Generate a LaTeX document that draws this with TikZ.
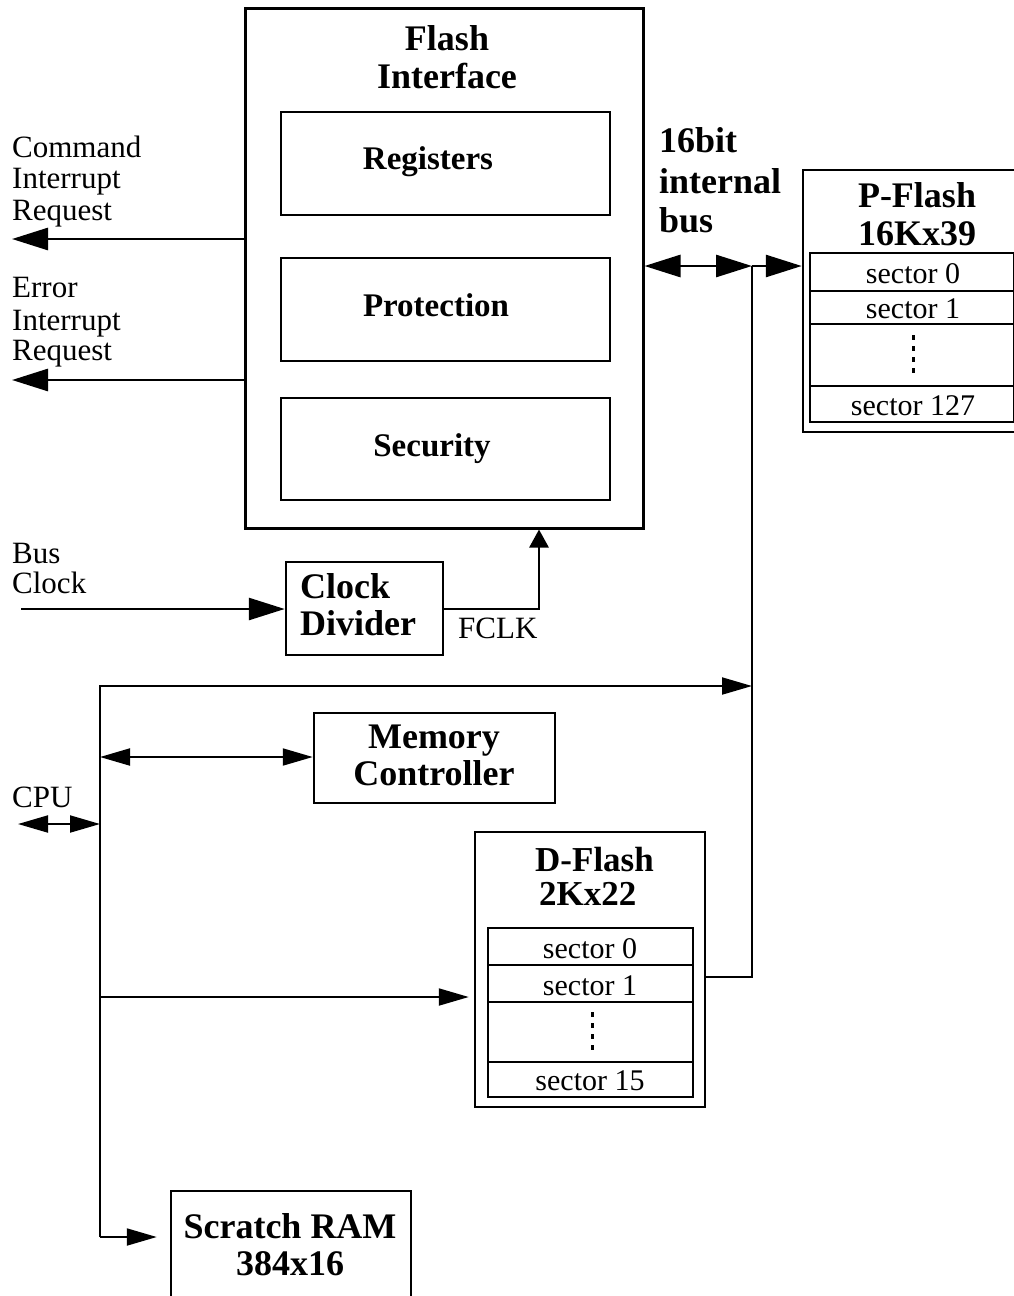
\documentclass[tikz,border=0pt]{standalone}
\usepackage{fontspec}
\setmainfont{Liberation Serif}
\usetikzlibrary{arrows.meta}
\tikzset{
  blk/.style={draw, line width=2.5pt, inner sep=0pt},
  thk/.style={line width=2.8pt},
  thn/.style={line width=2pt},
  bigtip/.style={-{Triangle[length=36pt,width=22pt]}},
  bigboth/.style={{Triangle[length=36pt,width=22pt]}-{Triangle[length=36pt,width=22pt]}},
  smtip/.style={-{Triangle[length=30pt,width=17pt]}},
  smboth/.style={{Triangle[length=30pt,width=17pt]}-{Triangle[length=30pt,width=17pt]}},
  ttl/.style={font=\fontsize{36}{38}\selectfont\bfseries, anchor=base, inner sep=0pt},
  ttlw/.style={font=\fontsize{36}{38}\selectfont\bfseries, anchor=base west, inner sep=0pt},
  sub/.style={font=\fontsize{33}{35}\selectfont\bfseries, anchor=base, inner sep=0pt},
  txt/.style={font=\fontsize{31}{32}\selectfont, anchor=base west, inner sep=0pt},
  sect/.style={font=\fontsize{30}{32}\selectfont, anchor=base, inner sep=0pt},
  dotsline/.style={line width=3pt, dash pattern=on 5pt off 6pt},
}
\begin{document}
\begin{tikzpicture}[x=1pt,y=-1pt]
\fill[white] (0,0) rectangle (1013,1296);
\useasboundingbox (0,0) rectangle (1013,1296);

% Flash interface
\node[blk, line width=3pt, minimum width=398pt, minimum height=520pt] (fi) at (444,268) {};
\node[blk, minimum width=329pt, minimum height=103pt] (reg) at (445.5,163.5) {};
\node[blk, minimum width=329pt, minimum height=103pt] (prot) at (445.5,309.5) {};
\node[blk, minimum width=329pt, minimum height=102pt] (sec) at (445.5,449) {};
\node[ttl] (fiT1) at (447,50) {Flash};
\node[ttl] (fiT2) at (447,88) {Interface};
\node[sub] (regT) at (428,169) {Registers};
\node[sub] (protT) at (436,316) {Protection};
\node[sub] (secT) at (432,456) {Security};

% P-Flash
\node[blk, minimum width=218pt, minimum height=262pt] (pf) at (912,301) {};
\node[blk, minimum width=204pt, minimum height=38pt] (pf0) at (912,272) {};
\node[blk, minimum width=204pt, minimum height=33pt] (pf1) at (912,307.5) {};
\node[blk, minimum width=204pt, minimum height=62pt] (pfd) at (912,355) {};
\node[blk, minimum width=204pt, minimum height=36pt] (pf127) at (912,404) {};
\node[ttl] (pfT1) at (917,207) {P-Flash};
\node[ttl] (pfT2) at (917,245) {16Kx39};
\node[sect] (pf0T) at (913,283) {sector 0};
\node[sect] (pf1T) at (913,318) {sector 1};
\node[sect] (pf127T) at (913,415) {sector 127};
\draw[dotsline] (913,335) -- (913,378);

% D-Flash
\node[blk, minimum width=230pt, minimum height=275pt] (df) at (590,969.5) {};
\node[blk, minimum width=205pt, minimum height=37pt] (df0) at (590.5,946.5) {};
\node[blk, minimum width=205pt, minimum height=37pt] (df1) at (590.5,983.5) {};
\node[blk, minimum width=205pt, minimum height=60pt] (dfd) at (590.5,1032) {};
\node[blk, minimum width=205pt, minimum height=35pt] (df15) at (590.5,1079.5) {};
\node[font=\fontsize{35}{34}\selectfont\bfseries, align=left, inner sep=0pt, anchor=south west] (dfT) at (535,906) {D-Flash\\\hspace*{4pt}2Kx22};
\node[sect] (df0T) at (590,958) {sector 0};
\node[sect] (df1T) at (590,995) {sector 1};
\node[sect] (df15T) at (590,1090) {sector 15};
\draw[dotsline] (592,1012) -- (592,1054);

% Clock divider, memory controller, scratch RAM
\node[blk, minimum width=157pt, minimum height=93pt] (clk) at (364.5,608.5) {};
\node[ttlw] (clkT1) at (300,598) {Clock};
\node[ttlw] (clkT2) at (300,635) {Divider};
\node[blk, minimum width=241pt, minimum height=90pt] (mc) at (434.5,758) {};
\node[ttl] (mcT1) at (434,748) {Memory};
\node[ttl] (mcT2) at (434,785) {Controller};
\node[blk, minimum width=240pt, minimum height=119pt] (sr) at (291,1250.5) {};
\node[ttl] (srT1) at (290,1238) {Scratch RAM};
\node[ttl] (srT2) at (290,1275) {384x16};

% Side texts
\node[txt] (cmd1) at (12,157) {Command};
\node[txt] (cmd2) at (12,188) {Interrupt};
\node[txt] (cmd3) at (12,220) {Request};
\node[txt] (err1) at (12,297) {Error};
\node[txt] (err2) at (12,330) {Interrupt};
\node[txt] (err3) at (12,360) {Request};
\node[ttlw] (bus1) at (659,152) {16bit};
\node[ttlw] (bus2) at (659,193) {internal};
\node[ttlw] (bus3) at (659,232) {bus};
\node[txt] (bc1) at (12,563) {Bus};
\node[txt] (bc2) at (12,593) {Clock};
\node[txt] (fclkT) at (458,638) {FCLK};
\node[txt] (cpuT) at (12,807) {CPU};

% Connectors
\coordinate (cmdE) at (12,239);
\draw[thk,bigtip] (fi.west |- cmdE) -- (cmdE);
\coordinate (errE) at (12,380);
\draw[thk,bigtip] (fi.west |- errE) -- (errE);

\coordinate (bus) at (752,266);
\draw[thk,bigboth] (fi.east |- bus) -- (bus);
\draw[thk,bigtip] (bus) -- (pf.west |- bus);
\coordinate (dfj) at (752,977);
\draw[thk] (df.east |- dfj) -- (dfj) -- (bus);

\coordinate (bcS) at (21,609);
\draw[thk,bigtip] (bcS) -- (clk.west |- bcS);
\coordinate (fk) at (539,609);
\draw[thk,-{Triangle[length=18pt,width=19pt]}] (clk.east |- fk) -- (fk) -- (fk |- fi.south);

\coordinate (ctop) at (100,686);
\coordinate (cbot) at (100,1237);
\draw[thn,smtip] (cbot) -- (ctop) -- (ctop -| bus);
\draw[thn,smtip,shorten >=13pt] (cbot) -- (sr.west |- cbot);
\coordinate (cmc) at (100,757);
\draw[thn,smboth] (cmc) -- (mc.west |- cmc);
\coordinate (cpuL) at (18,824);
\draw[thn,smboth] (cpuL) -- (cpuL -| ctop);
\coordinate (cdf) at (100,997);
\draw[thn,smtip,shorten >=5pt] (cdf) -- (df.west |- cdf);
\end{tikzpicture}
\end{document}
